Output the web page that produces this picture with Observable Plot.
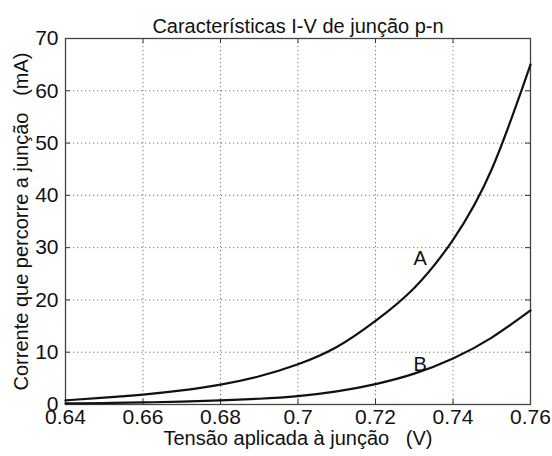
<!DOCTYPE html>
<html><head><meta charset="utf-8">
<script src="https://cdn.jsdelivr.net/npm/d3@7"></script>
<script src="https://cdn.jsdelivr.net/npm/@observablehq/plot@0.6"></script>
<style>body{margin:0;background:#fff;} svg{font-family:"Liberation Sans",Arial,sans-serif;}</style>
</head><body><div id="chart"></div>
<script>
const voltage = [0.64,0.65,0.66,0.67,0.68,0.69,0.70,0.71,0.72,0.73,0.74,0.75,0.76];
const currentA = [0.8,1.3,1.9,2.7,3.8,5.4,7.7,11,16,22.3,31.5,45,65];
const currentB = [0.2,0.28,0.4,0.55,0.8,1.1,1.6,2.5,3.9,5.9,8.8,12.8,18];
const xTicks = [0.64,0.66,0.68,0.70,0.72,0.74,0.76];
const yTicks = [0,10,20,30,40,50,60,70];
const curveLabels = ["A","B"];
const labelX = [0.7315,0.7315];
const labelY = [27.9,7.7];
const title = "Características I-V de junção p-n";
const xLabel = "Tensão aplicada à junção\u00a0\u00a0\u00a0(V)";
const yLabel = "Corrente que percorre a junção\u00a0\u00a0\u00a0(mA)";

const rows = [];
voltage.forEach((v,i)=>{rows.push({v, i: currentA[i], s:"A"}); rows.push({v, i: currentB[i], s:"B"});});
const labels = curveLabels.map((t,k)=>({t, v: labelX[k], i: labelY[k]}));

const gridStyle = {stroke: "#666", strokeOpacity: 0.9, strokeWidth: 1, strokeDasharray: "1.2,2.8"};
const chart = Plot.plot({
  width: 552, height: 456,
  marginLeft: 65, marginRight: 22, marginTop: 38, marginBottom: 52,
  style: {fontFamily: "'Liberation Sans', Arial, sans-serif", background: "#fff"},
  x: {domain: [0.64, 0.76], axis: null},
  y: {domain: [0, 70]},
  marks: [
    Plot.gridX(xTicks, gridStyle),
    Plot.gridY(yTicks, gridStyle),
    Plot.tickX(xTicks, {x: d => d, insetTop: 361, stroke: "#333"}),
    Plot.tickX(xTicks, {x: d => d, insetBottom: 361, stroke: "#333"}),
    Plot.tickY(yTicks, {y: d => d, insetRight: 460, stroke: "#333"}),
    Plot.tickY(yTicks, {y: d => d, insetLeft: 460, stroke: "#333"}),
    Plot.text(xTicks, {x: d => d, frameAnchor: "bottom", dy: 19, fontSize: 21, fill: "#111", text: d => String(+d.toFixed(2))}),
    Plot.axisY(yTicks, {tickSize: 0, tickPadding: 7, fontSize: 21, fill: "#111", label: null}),
    Plot.frame({stroke: "#444", strokeWidth: 1.3}),
    Plot.line(rows, {x: "v", y: "i", z: "s", stroke: "#111", strokeWidth: 2.2, curve: "natural"}),
    Plot.text(labels, {x: "v", y: "i", text: "t", fontSize: 20, fill: "#111"}),
    Plot.text([title], {frameAnchor: "top", dy: -20, fontSize: 20, fill: "#111"}),
    Plot.text([xLabel], {frameAnchor: "bottom", dy: 40, fontSize: 20, fill: "#111"}),
    Plot.text([yLabel], {frameAnchor: "left", dx: -44, rotate: -90, textAnchor: "middle", fontSize: 20, fill: "#111"})
  ]
});
document.getElementById("chart").appendChild(chart);
</script></body></html>
